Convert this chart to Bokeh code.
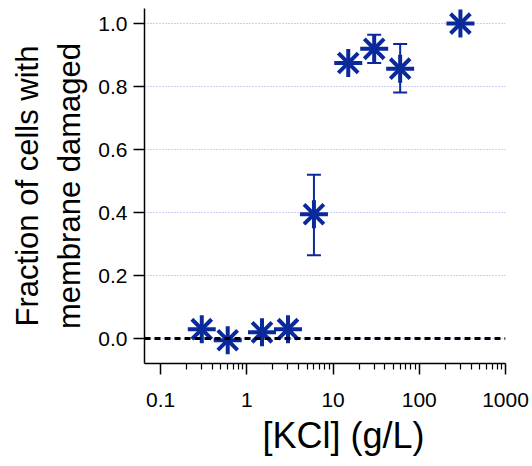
from bokeh.plotting import figure
from bokeh.models import ColumnDataSource, Whisker, FixedTicker, Span, Title
from bokeh.embed import file_html
from bokeh.resources import INLINE

# Data
kcl = [0.3, 0.6, 1.5, 3.0, 6.0, 15.0, 30.0, 60.0, 300.0]
fraction = [0.03, -0.005, 0.02, 0.03, 0.395, 0.875, 0.92, 0.857, 1.0]
err_low = [0.0, 0.0, 0.0, 0.0, 0.265, 0.0, 0.875, 0.781, 0.0]
err_high = [0.0, 0.0, 0.0, 0.0, 0.52, 0.0, 0.965, 0.935, 0.0]
x_major = [0.1, 1, 10, 100, 1000]
y_major = [0.0, 0.2, 0.4, 0.6, 0.8, 1.0]

COLOR = "#0a2a9c"
FONT = "Liberation Sans"

p = figure(width=532, height=466, x_axis_type="log",
           x_range=(0.065, 1000), y_range=(-0.079, 1.048),
           output_backend="svg", toolbar_location=None,
           min_border_left=144, min_border_right=27,
           min_border_top=8, min_border_bottom=103)
p.outline_line_color = None
p.background_fill_color = "white"
p.border_fill_color = "white"

minor = []
for d in [0.1, 1, 10, 100]:
    for k in range(2, 10):
        minor.append(d * k)
p.xaxis.ticker = FixedTicker(ticks=x_major, minor_ticks=minor)
p.yaxis.ticker = FixedTicker(ticks=y_major, minor_ticks=[])

for ax in (p.xaxis, p.yaxis):
    ax.axis_line_color = "black"
    ax.axis_line_width = 1.5
    ax.major_tick_line_color = "black"
    ax.major_tick_line_width = 1.5
    ax.major_tick_out = 11
    ax.major_tick_in = 0
    ax.minor_tick_line_color = "black"
    ax.minor_tick_line_width = 1.2
    ax.minor_tick_out = 6
    ax.minor_tick_in = 0
    ax.major_label_text_font = FONT
    ax.major_label_text_font_size = "21px"
    ax.major_label_text_color = "black"
    ax.axis_label_text_font = FONT
    ax.axis_label_text_font_style = "normal"
    ax.axis_label_text_color = "black"

p.xaxis.major_label_standoff = 18
p.xaxis.major_label_overrides = {0.1: "0.1", 1: "1", 10: "10", 100: "100", 1000: "1000"}

xlabel = Title(text="[KCl] (g/L)", align="left", offset=118,
               text_font=FONT, text_font_size="36px", text_font_style="normal",
               text_color="black", standoff=6)
p.add_layout(xlabel, "below")

p.yaxis.axis_label = "Fraction of cells with\nmembrane damaged"
p.yaxis.axis_label_text_font_size = "31px"
p.yaxis.major_label_standoff = 6
p.yaxis.axis_label_standoff = 8
p.yaxis.major_label_overrides = {0.0: "0.0", 0.2: "0.2", 0.4: "0.4", 0.6: "0.6", 0.8: "0.8", 1.0: "1.0"}

p.xgrid.grid_line_color = None
p.ygrid.grid_line_color = "#9a9aee"
p.ygrid.grid_line_dash = "1 2"
p.ygrid.grid_line_width = 1

p.add_layout(Span(location=0, dimension="width", line_color="black",
                  line_width=3, line_dash="6 4"))

eb_x = [x for x, lo in zip(kcl, err_low) if lo != 0]
eb_lo = [lo for lo in err_low if lo != 0]
eb_hi = [hi for hi, lo in zip(err_high, err_low) if lo != 0]
esrc = ColumnDataSource(dict(x=eb_x, lower=eb_lo, upper=eb_hi))
w = Whisker(source=esrc, base="x", lower="lower", upper="upper",
            line_color=COLOR, line_width=2)
w.upper_head.size = 14
w.lower_head.size = 14
w.upper_head.line_color = COLOR
w.lower_head.line_color = COLOR
w.upper_head.line_width = 2
w.lower_head.line_width = 2
p.add_layout(w)

src = ColumnDataSource(dict(x=kcl, y=fraction))
p.scatter("x", "y", source=src, marker="x", size=28, line_color=COLOR, line_width=4)
p.scatter("x", "y", source=src, marker="cross", size=28, line_color=COLOR, line_width=4)

open("out.html", "w").write(file_html(p, INLINE))
